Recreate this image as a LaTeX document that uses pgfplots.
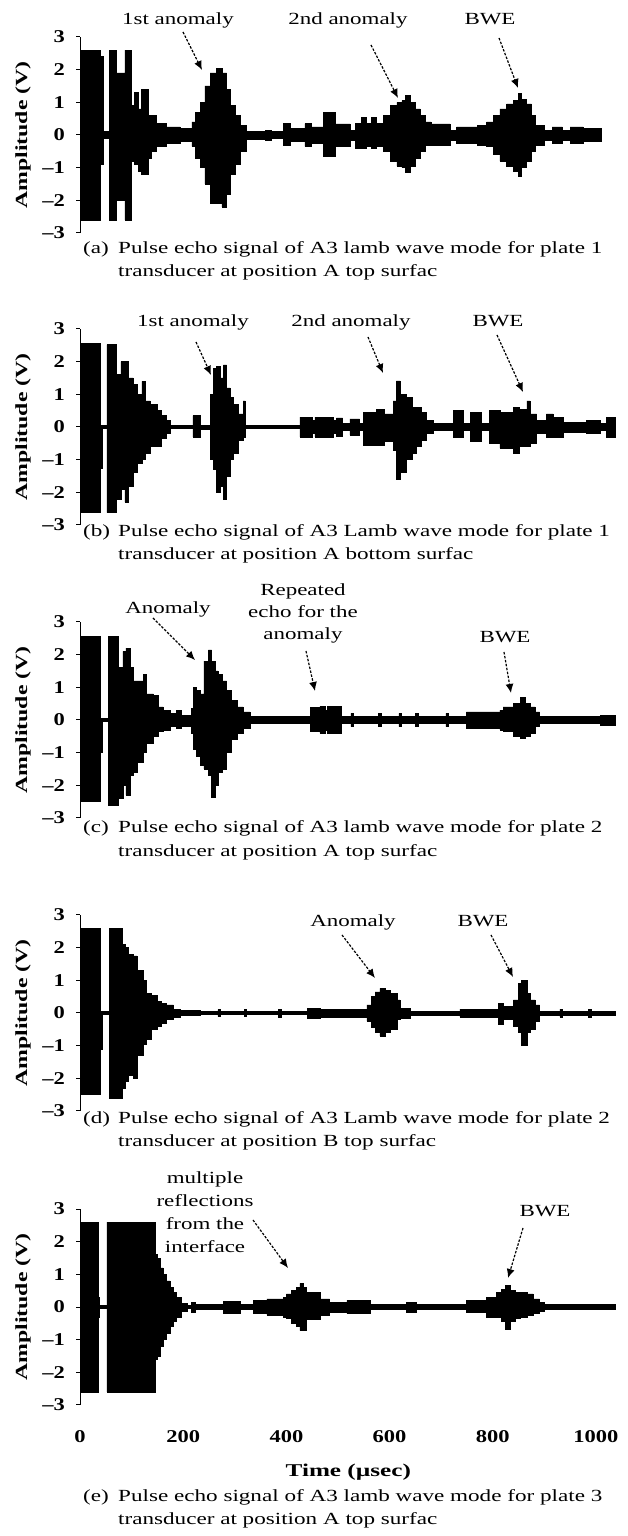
\documentclass[border=0pt]{standalone}
\usepackage{fontspec}
\setmainfont{Liberation Serif}
\newfontfamily\capfont[FakeStretch=1.35]{Liberation Serif}
\newfontfamily\captfont[FakeStretch=1.36]{Liberation Serif}
\newfontfamily\tickfont[FakeStretch=1.25]{Liberation Serif}
\newfontfamily\labfont[FakeStretch=1.4]{Liberation Serif}
\usepackage{pgfplots}
\usepackage{pgfplotstable}
\pgfplotsset{compat=1.18}
\usetikzlibrary{arrows.meta}

\newcommand{\capsz}{\capfont\fontsize{17}{20}\selectfont}
\newcommand{\captsz}{\captfont\fontsize{17}{20}\selectfont}
\newcommand{\ticksz}{\tickfont\bfseries\fontsize{18}{20}\selectfont}
\newcommand{\labsz}{\labfont\bfseries\fontsize{17}{20}\selectfont}
\newcommand{\xlabsz}{\labfont\bfseries\fontsize{18}{20}\selectfont}

\pgfplotstableread{
t hi lo
0 0 0
3 2.6 -2.6
40 2.4 -0.9
46 0.1 -0.1
57 2.6 -2.6
71 1.9 -2.0
87 2.6 -2.6
100 0.9 -0.8
106 1.3 -0.9
113 0.8 -1.1
119 1.4 -1.2
132 0.6 -0.7
139 0.6 -0.5
148 0.35 -0.35
168 0.25 -0.25
194 0.2 -0.2
217 0.4 -0.35
223 0.7 -0.7
233 1.0 -1.0
242 1.5 -1.5
252 1.9 -2.1
265 2.05 -2.1
275 1.9 -2.2
284 1.4 -1.8
291 0.9 -1.2
300 0.6 -0.9
310 0.3 -0.5
323 0.12 -0.12
360 0.15 -0.15
370 0.1 -0.1
394 0.35 -0.3
407 0.2 -0.2
436 0.35 -0.35
449 0.25 -0.25
471 0.7 -0.64
494 0.34 -0.33
523 0.15 -0.15
533 0.35 -0.4
545 0.55 -0.4
555 0.35 -0.35
565 0.55 -0.4
575 0.35 -0.35
588 0.6 -0.5
601 0.9 -0.8
614 1.0 -0.95
624 1.05 -1.0
630 1.22 -1.15
640 1.0 -0.95
649 0.8 -0.7
659 0.6 -0.5
669 0.4 -0.3
680 0.34 -0.3
717 0.15 -0.15
730 0.25 -0.25
770 0.3 -0.3
788 0.4 -0.35
801 0.6 -0.6
814 0.8 -0.8
827 0.95 -0.95
840 1.05 -1.1
849 1.27 -1.26
855 1.1 -1.0
865 0.95 -0.8
875 0.6 -0.5
882 0.3 -0.3
900 0.15 -0.15
915 0.25 -0.25
935 0.15 -0.15
950 0.25 -0.25
975 0.2 -0.2
1011 0 0
}\dA

\pgfplotstableread{
t hi lo
0 0 0
3 2.57 -2.62
39 0.04 -0.04
41 0.04 -1.25
43 0.04 -0.04
52 2.52 -2.62
71 1.6 -2.2
79 2.0 -1.9
87 2.0 -2.3
93 1.5 -1.8
103 1.3 -1.4
110 1.0 -1.1
120 1.4 -1.0
126 0.8 -0.8
136 0.7 -0.6
149 0.5 -0.6
158 0.35 -0.35
168 0.2 -0.2
174 0.05 -0.05
219 0.35 -0.3
233 0.06 -0.06
252 1.0 -1.0
258 1.8 -1.3
265 1.85 -2.0
271 1.5 -1.8
278 1.9 -2.2
284 1.2 -1.5
291 0.9 -1.0
297 0.7 -0.8
307 0.4 -0.4
316 0.8 -0.3
320 0.05 -0.05
426 0.3 -0.3
450 0.2 -0.2
455 0.3 -0.3
490 0.2 -0.2
497 0.28 -0.28
509 0.1 -0.1
523 0.25 -0.25
542 0.1 -0.1
549 0.45 -0.55
575 0.55 -0.55
590 0.4 -0.45
607 0.8 -0.7
613 1.41 -1.61
620 1.0 -1.4
633 0.9 -1.0
643 0.6 -0.8
652 0.6 -0.6
662 0.45 -0.4
672 0.2 -0.2
684 0.1 -0.1
723 0.5 -0.3
743 0.1 -0.1
756 0.45 -0.45
778 0.1 -0.1
794 0.5 -0.5
814 0.45 -0.65
840 0.6 -0.8
852 0.55 -0.6
866 0.8 -0.6
872 0.4 -0.5
885 0.2 -0.2
904 0.4 -0.3
917 0.3 -0.3
936 0.15 -0.15
982 0.2 -0.2
1008 0.1 -0.1
1020 0.3 -0.3
1037 0 0
}\dB

\pgfplotstableread{
t hi lo
0 0 0
3 2.55 -2.5
39 0.05 -0.05
41 0.05 -1.0
43 0.05 -0.05
55 2.55 -2.6
74 1.6 -2.4
83 2.1 -2.0
89 2.2 -2.3
97 1.6 -1.7
103 1.2 -1.6
110 1.2 -1.3
123 1.4 -1.0
129 0.8 -0.7
142 0.75 -0.5
152 0.4 -0.35
161 0.3 -0.3
174 0.2 -0.2
187 0.3 -0.25
197 0.15 -0.2
216 0.35 -0.4
220 1.0 -0.9
226 0.9 -1.1
233 0.8 -1.4
240 1.8 -1.5
249 2.15 -1.7
255 1.8 -2.35
262 1.5 -2.0
267 1.4 -1.6
275 1.2 -1.5
284 0.9 -1.0
294 0.6 -0.6
304 0.4 -0.4
316 0.25 -0.25
329 0.1 -0.1
446 0.38 -0.35
465 0.42 -0.4
475 0.3 -0.3
480 0.42 -0.4
507 0.1 -0.1
525 0.2 -0.2
530 0.1 -0.1
579 0.2 -0.2
584 0.1 -0.1
618 0.2 -0.2
623 0.1 -0.1
650 0.2 -0.2
655 0.1 -0.1
709 0.2 -0.2
714 0.1 -0.1
749 0.25 -0.25
814 0.3 -0.3
820 0.4 -0.35
840 0.5 -0.5
853 0.7 -0.55
862 0.5 -0.5
872 0.4 -0.4
882 0.25 -0.2
891 0.1 -0.1
1008 0.15 -0.15
1037 0 0
}\dC

\pgfplotstableread{
t hi lo
0 0 0
3 2.6 -2.5
39 0.05 -0.05
41 0.05 -1.1
44 0.05 -0.05
57 2.6 -2.6
81 2.1 -2.3
87 2.0 -2.1
94 1.8 -1.9
103 1.75 -2.0
110 1.3 -1.3
123 1.0 -0.95
129 0.6 -0.8
139 0.55 -0.5
149 0.35 -0.4
158 0.3 -0.3
168 0.25 -0.2
181 0.12 -0.12
194 0.08 -0.08
233 0.04 -0.04
267 0.1 -0.1
271 0.04 -0.04
319 0.1 -0.1
323 0.04 -0.04
384 0.12 -0.12
390 0.04 -0.04
440 0.15 -0.15
465 0.12 -0.12
556 0.25 -0.25
565 0.5 -0.45
572 0.65 -0.6
581 0.75 -0.7
591 0.7 -0.6
601 0.6 -0.5
614 0.4 -0.2
620 0.15 -0.15
640 0.06 -0.06
736 0.12 -0.12
811 0.3 -0.35
820 0.2 -0.2
840 0.4 -0.4
849 0.9 -0.6
855 1.0 -1.0
866 0.6 -0.6
872 0.4 -0.5
882 0.25 -0.25
891 0.06 -0.06
930 0.12 -0.12
935 0.06 -0.06
985 0.12 -0.12
990 0.06 -0.06
1037 0 0
}\dD

\pgfplotstableread{
t hi lo
0 0 0
3 2.6 -2.6
35 0.3 -0.3
38 0.04 -0.04
52 2.6 -2.6
145 1.6 -1.6
149 1.5 -1.5
155 1.2 -1.2
161 1.0 -1.0
168 0.8 -0.8
174 0.6 -0.6
181 0.45 -0.45
187 0.3 -0.3
197 0.12 -0.12
207 0.05 -0.05
216 0.15 -0.15
223 0.08 -0.08
278 0.18 -0.2
310 0.08 -0.08
336 0.2 -0.2
362 0.25 -0.25
394 0.3 -0.3
400 0.4 -0.35
410 0.5 -0.5
420 0.6 -0.6
426 0.72 -0.72
432 0.6 -0.7
439 0.45 -0.36
465 0.25 -0.25
484 0.15 -0.15
517 0.2 -0.2
562 0.08 -0.08
633 0.15 -0.15
652 0.07 -0.07
749 0.2 -0.15
788 0.3 -0.3
807 0.45 -0.3
817 0.55 -0.45
824 0.67 -0.67
833 0.5 -0.45
843 0.45 -0.35
853 0.45 -0.3
866 0.4 -0.25
878 0.25 -0.2
891 0.15 -0.12
900 0.08 -0.08
1037 0 0
}\dE

\pgfplotsset{
  panel/.style={
    scale only axis, width=536.6pt, height=196pt,
    xmin=0, xmax=1040, ymin=-3, ymax=3,
    axis y line=left, axis x line=bottom,
    axis line style={-, line width=1pt, black},
    x axis line style={draw=none},
    xtick=\empty,
    ytick={-3,-2,-1,0,1,2,3},
    yticklabels={–3,–2,–1,0,1,2,3},
    tick align=outside,
    major tick length=4pt,
    ytick style={line width=1pt, black},
    xtick style={draw=none},
    yticklabel style={font=\ticksz, inner sep=0pt, xshift=-11pt},
    ylabel={Amplitude (V)},
    ylabel style={font=\labsz, at={(axis description cs:-0.1062,0.5)}, anchor=center},
  },
  sig/.style={const plot, fill=black, draw=black, line width=0.5pt},
}

\tikzset{
  capn/.style={font=\capsz, inner sep=0pt, anchor=base},
  capw/.style={font=\captsz, inner sep=0pt, anchor=base west},
  ann/.style={line width=1.2pt, dash pattern=on 2.5pt off 1.5pt, -{Latex[length=9pt,width=8pt]}},
}

\begin{document}
\begin{tikzpicture}
\useasboundingbox (0,0) rectangle (627pt,1536pt);

\begin{axis}[panel, at={(80pt,1303pt)}, anchor=south west]
\addplot[sig] table[x=t,y=hi]{\dA} \closedcycle;
\addplot[sig] table[x=t,y=lo]{\dA} \closedcycle;
\end{axis}

\begin{axis}[panel, at={(80pt,1011pt)}, anchor=south west]
\addplot[sig] table[x=t,y=hi]{\dB} \closedcycle;
\addplot[sig] table[x=t,y=lo]{\dB} \closedcycle;
\end{axis}

\begin{axis}[panel, at={(80pt,718pt)}, anchor=south west]
\addplot[sig] table[x=t,y=hi]{\dC} \closedcycle;
\addplot[sig] table[x=t,y=lo]{\dC} \closedcycle;
\end{axis}

\begin{axis}[panel, at={(80pt,425pt)}, anchor=south west]
\addplot[sig] table[x=t,y=hi]{\dD} \closedcycle;
\addplot[sig] table[x=t,y=lo]{\dD} \closedcycle;
\end{axis}

\begin{axis}[panel, at={(80pt,131pt)}, anchor=south west,
  xtick={0,200,400,600,800,1000},
  xticklabels={0,200,400,600,800,1000},
  xticklabel style={font=\ticksz, inner sep=0pt, anchor=base, yshift=-34pt},
  xlabel={Time (µsec)},
  xlabel style={font=\xlabsz, at={(axis description cs:0.5,0)}, anchor=base, yshift=-71pt}]
\addplot[sig] table[x=t,y=hi]{\dE} \closedcycle;
\addplot[sig] table[x=t,y=lo]{\dE} \closedcycle;
\end{axis}

\begin{scope}[shift={(0pt,1536pt)}, x=1pt, y=-1pt]
% panel a
\node[capn] at (178,25) {1st anomaly};
\draw[ann] (183,32) -- (202,70);
\node[capn] at (348,25) {2nd anomaly};
\draw[ann] (371,45) -- (398,98);
\node[capn] at (490,25) {BWE};
\draw[ann] (499,38) -- (518,88);
\node[capw] at (83,254) {(a)};
\node[capw] at (118,254) {Pulse echo signal of A3 lamb wave mode for plate 1};
\node[capw] at (118,277) {transducer at position A top surfac};
% panel b
\node[capn] at (193,327) {1st anomaly};
\draw[ann] (196,342) -- (211,375);
\node[capn] at (351,327) {2nd anomaly};
\draw[ann] (368,337) -- (383,373);
\node[capn] at (498,327) {BWE};
\draw[ann] (497,335) -- (523,392);
\node[capw] at (83,537) {(b)};
\node[capw] at (118,537) {Pulse echo signal of A3 Lamb wave mode for plate 1};
\node[capw] at (118,560) {transducer at position A bottom surfac};
% panel c
\node[capn] at (168,614) {Anomaly};
\draw[ann] (153,618) -- (195,660);
\node[capn] at (303,596) {Repeated};
\node[capn] at (303,618) {echo for the};
\node[capn] at (303,640) {anomaly};
\draw[ann] (306,651) -- (315,691);
\node[capn] at (505,643) {BWE};
\draw[ann] (504,652) -- (511,693);
\node[capw] at (83,833) {(c)};
\node[capw] at (118,833) {Pulse echo signal of A3 lamb wave mode for plate 2};
\node[capw] at (118,857) {transducer at position A top surfac};
% panel d
\node[capn] at (353,927) {Anomaly};
\draw[ann] (342,935) -- (375,978);
\node[capn] at (483,927) {BWE};
\draw[ann] (491,935) -- (513,977);
\node[capw] at (83,1124) {(d)};
\node[capw] at (118,1124) {Pulse echo signal of A3 Lamb wave mode for plate 2};
\node[capw] at (118,1147) {transducer at position B top surfac};
% panel e
\node[capn] at (205,1184) {multiple};
\node[capn] at (205,1207) {reflections};
\node[capn] at (205,1230) {from the};
\node[capn] at (205,1253) {interface};
\draw[ann] (253,1220) -- (288,1268);
\node[capn] at (545,1217) {BWE};
\draw[ann] (523,1228) -- (508,1278);
\node[capw] at (83,1502) {(e)};
\node[capw] at (118,1502) {Pulse echo signal of A3 lamb wave mode for plate 3};
\node[capw] at (118,1524) {transducer at position A top surfac};
\end{scope}
\end{tikzpicture}
\end{document}
